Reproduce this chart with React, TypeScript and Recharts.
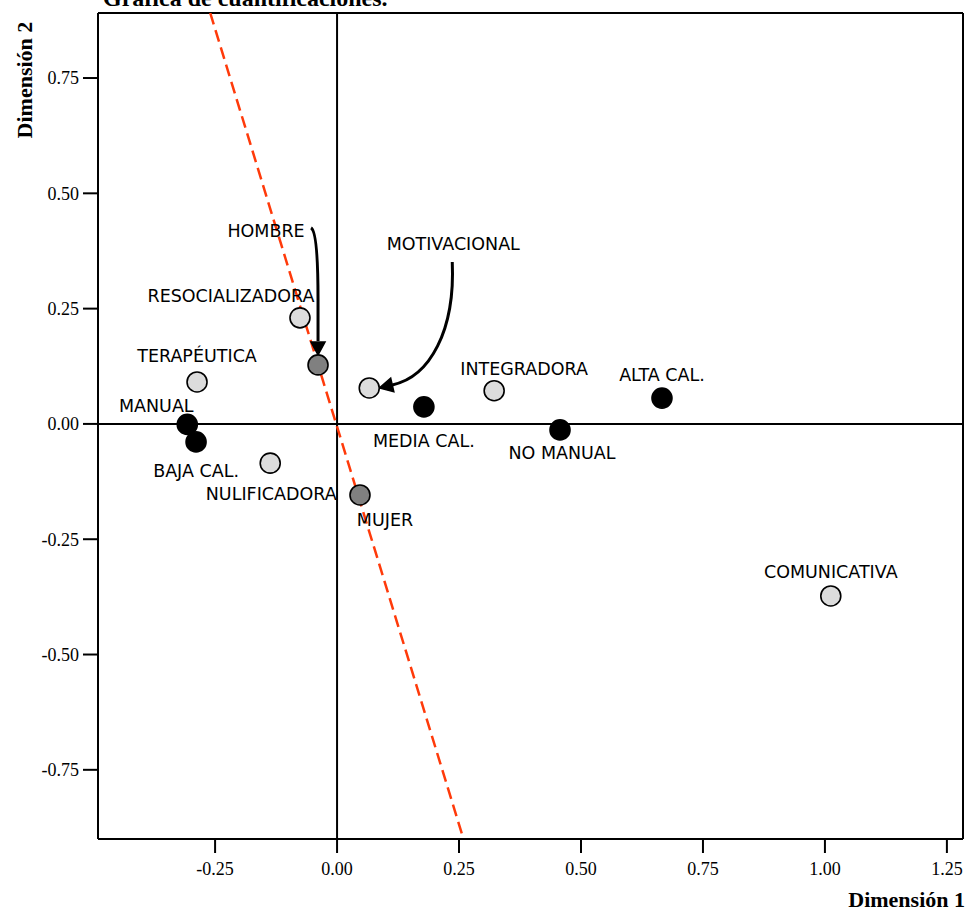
import React from 'react';
import { ScatterChart, Scatter, XAxis, YAxis, ReferenceLine } from 'recharts';

// ---- data ----
const lightNames = ['RESOCIALIZADORA', 'TERAPÉUTICA', 'NULIFICADORA', 'MOTIVACIONAL', 'INTEGRADORA', 'COMUNICATIVA'];
const lightX = [-0.076, -0.287, -0.137, 0.066, 0.322, 1.012];
const lightY = [0.23, 0.091, -0.085, 0.078, 0.072, -0.373];

const grayNames = ['HOMBRE', 'MUJER'];
const grayX = [-0.039, 0.047];
const grayY = [0.128, -0.154];

const blackNames = ['MANUAL', 'BAJA CAL.', 'MEDIA CAL.', 'NO MANUAL', 'ALTA CAL.'];
const blackX = [-0.307, -0.289, 0.178, 0.457, 0.666];
const blackY = [-0.001, -0.039, 0.037, -0.013, 0.056];

const fitLineX = [-0.26, 0.258];
const fitLineY = [0.891, -0.896];

const xTicks = [-0.25, 0, 0.25, 0.5, 0.75, 1.0, 1.25];
const yTicks = [-0.75, -0.5, -0.25, 0, 0.25, 0.5, 0.75];
const xDomain = [-0.49, 1.283];
const yDomain = [-0.9, 0.891];

const toRows = (names: string[], xs: number[], ys: number[]) =>
  names.map((name, i) => ({ name, x: xs[i], y: ys[i] }));

const lightData = toRows(lightNames, lightX, lightY);
const grayData = toRows(grayNames, grayX, grayY);
const blackData = toRows(blackNames, blackX, blackY);
const fitData = fitLineX.map((x, i) => ({ x, y: fitLineY[i] }));

// ---- layout config for annotations (pixel offsets from marker) ----
const labelOffsets: Record<string, [number, number]> = {
  RESOCIALIZADORA: [-69, -16],
  'TERAPÉUTICA': [0, -20],
  NULIFICADORA: [1, 37],
  MOTIVACIONAL: [84, -138],
  INTEGRADORA: [30, -16],
  COMUNICATIVA: [0, -18],
  HOMBRE: [-52, -128],
  MUJER: [25, 31],
  MANUAL: [-31, -12],
  'BAJA CAL.': [0, 35],
  'MEDIA CAL.': [0, 40],
  'NO MANUAL': [2, 29],
  'ALTA CAL.': [0, -17],
};

type Arrow = { path: string; tip: [number, number]; base: [number, number] };
const arrows: Record<string, Arrow> = {
  HOMBRE: { path: 'M-7,-137 Q0,-133 0,-65 L0,-24', tip: [0, -10], base: [0, -23] },
  MOTIVACIONAL: { path: 'M83,-126 C86,-58 61,-11 23,-3', tip: [10, 0], base: [23, -3] },
};

const LABEL_FONT = '"DejaVu Sans", sans-serif';
const SERIF = '"Liberation Serif", "Times New Roman", serif';

const makeShape = (fill: string) => (props: any) => {
  const { cx, cy, payload } = props;
  if (cx == null || cy == null) return <g />;
  const off = labelOffsets[payload.name] || [0, -15];
  const ar = arrows[payload.name];
  let head = null;
  if (ar) {
    const [tx, ty] = ar.tip;
    const [bx, by] = ar.base;
    const dx = tx - bx;
    const dy = ty - by;
    const len = Math.sqrt(dx * dx + dy * dy);
    const px = (-dy / len) * 7;
    const py = (dx / len) * 7;
    head = `M${cx + tx},${cy + ty} L${cx + bx + px},${cy + by + py} L${cx + bx - px},${cy + by - py} Z`;
  }
  return (
    <g>
      <text
        x={cx + off[0]}
        y={cy + off[1]}
        textAnchor="middle"
        fontFamily={LABEL_FONT}
        fontSize={17.5}
        fill="#000"
      >
        {payload.name}
      </text>
      {ar && (
        <g transform={`translate(${cx},${cy})`}>
          <path d={ar.path} fill="none" stroke="#000" strokeWidth={3} />
        </g>
      )}
      {head && <path d={head} fill="#000" stroke="#000" strokeWidth={1.5} strokeLinejoin="miter" />}
      <circle cx={cx} cy={cy} r={10} fill={fill} stroke="#000" strokeWidth={1.6} />
    </g>
  );
};

const fmt = (v: number) => v.toFixed(2);

export default function App() {
  return (
    <div
      style={{
        position: 'fixed',
        left: 0,
        top: 0,
        width: 966,
        height: 911,
        background: '#fff',
        overflow: 'hidden',
      }}
    >
      <ScatterChart width={966} height={911} margin={{ top: 13, right: 3, bottom: 42, left: 38 }}>
        <XAxis
          type="number"
          dataKey="x"
          domain={xDomain}
          ticks={xTicks}
          tickFormatter={fmt}
          allowDataOverflow
          height={30}
          tickSize={14}
          tickMargin={9}
          axisLine={{ stroke: '#000', strokeWidth: 2 }}
          tickLine={{ stroke: '#000', strokeWidth: 2 }}
          tick={{ fill: '#000', fontSize: 18, fontFamily: SERIF }}
        />
        <YAxis
          type="number"
          dataKey="y"
          domain={yDomain}
          ticks={yTicks}
          tickFormatter={fmt}
          allowDataOverflow
          width={60}
          tickSize={15}
          tickMargin={4}
          axisLine={{ stroke: '#000', strokeWidth: 2 }}
          tickLine={{ stroke: '#000', strokeWidth: 2 }}
          tick={{ fill: '#000', fontSize: 18, fontFamily: SERIF }}
        />
        <ReferenceLine x={xDomain[1]} stroke="#000" strokeWidth={2} />
        <ReferenceLine y={yDomain[1]} stroke="#000" strokeWidth={2} />
        <ReferenceLine x={0} stroke="#000" strokeWidth={2} />
        <ReferenceLine y={0} stroke="#000" strokeWidth={2} />
        <Scatter
          data={fitData}
          isAnimationActive={false}
          line={{ stroke: '#ff3a0a', strokeWidth: 2.5, strokeDasharray: '12 6' }}
          shape={() => <g />}
        />
        <Scatter data={lightData} isAnimationActive={false} shape={makeShape('#dcdcdc')} />
        <Scatter data={grayData} isAnimationActive={false} shape={makeShape('#808080')} />
        <Scatter data={blackData} isAnimationActive={false} shape={makeShape('#000000')} />
      </ScatterChart>
      <svg
        width={966}
        height={911}
        style={{ position: 'absolute', left: 0, top: 0, pointerEvents: 'none' }}
      >
        <text x={103} y={6} fontFamily={SERIF} fontWeight="bold" fontSize={24} fill="#000">
          Gráfica de cuantificaciones.
        </text>
        <text x={965} y={907} textAnchor="end" fontFamily={SERIF} fontWeight="bold" fontSize={22} fill="#000">
          Dimensión 1
        </text>
        <text
          transform="translate(32,80) rotate(-90)"
          textAnchor="middle"
          fontFamily={SERIF}
          fontWeight="bold"
          fontSize={22}
          fill="#000"
        >
          Dimensión 2
        </text>
      </svg>
    </div>
  );
}
